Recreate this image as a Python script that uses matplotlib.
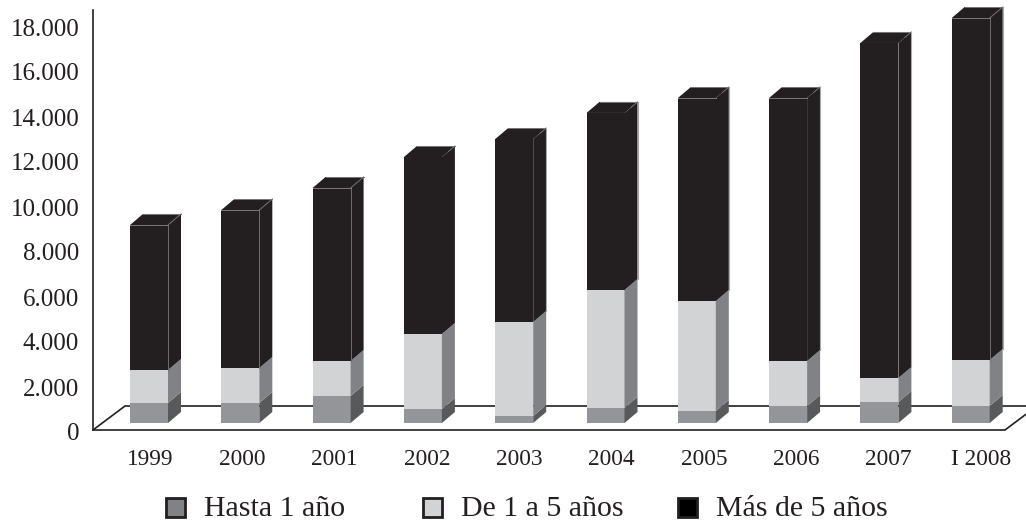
import matplotlib
matplotlib.use('Agg')
import matplotlib.pyplot as plt
from matplotlib.patches import Polygon, Rectangle
from matplotlib.transforms import ScaledTranslation

plt.rcParams['font.family'] = ['Liberation Serif', 'DejaVu Serif']

years = ['1999', '2000', '2001', '2002', '2003', '2004', '2005', '2006', '2007', 'I 2008']
hasta_1 = [890, 890, 1200, 620, 310, 670, 530, 755, 930, 755]
de_1_a_5 = [1465, 1555, 1555, 3335, 4180, 5240, 4890, 2000, 1070, 2045]
mas_de_5 = [6445, 7020, 7690, 7865, 8130, 7870, 9020, 11690, 14890, 15200]

yticks = [0, 2000, 4000, 6000, 8000, 10000, 12000, 14000, 16000, 18000]
ytick_labels = ['0', '2.000', '4.000', '6.000', '8.000', '10.000', '12.000', '14.000', '16.000', '18.000']

legend_names = ['Hasta 1 año', 'De 1 a 5 años', 'Más de 5 años']
legend_colors = ['#808285', '#d1d3d4', '#000000']

# which bars show the thin edges on the dark block
inner_edge = ['1999', '2000', '2001', 'I 2008']
front_top_edge = ['1999', '2000', '2001', '2005', '2006', 'I 2008']
outer_edge = ['2003', '2004', '2005', '2006', '2007', 'I 2008']

series = [
    (hasta_1, '#939598', '#58595b'),
    (de_1_a_5, '#d1d3d4', '#808285'),
    (mas_de_5, '#231f20', '#231f20'),
]

# sizes in pixels of the fake 3D look
W, H = 1026, 522
PX_LEFT, PX_FLOOR = 93, 430
PX_STEP = 91.3
PX_FIRST = 149
PX_PER_UNIT = 0.0225
half_w = 19 / PX_STEP
dx = 13 / PX_STEP
dy = 11 / PX_PER_UNIT
base = 7 / PX_PER_UNIT

fig = plt.figure(figsize=(W / 100, H / 100), dpi=100)
ax = fig.add_axes([PX_LEFT / W, (H - PX_FLOOR) / H, (W - PX_LEFT) / W, PX_FLOOR / H])
ax.set_xlim((PX_LEFT - PX_FIRST) / PX_STEP, (W - PX_FIRST) / PX_STEP)
ax.set_ylim(0, PX_FLOOR / PX_PER_UNIT)

# floor of the chart
floor_dx = 32 / PX_STEP
floor_dy = 24 / PX_PER_UNIT
x0, x1 = ax.get_xlim()
x_end = (1005 - PX_FIRST) / PX_STEP
ax.plot([x0, x0 + floor_dx, x_end + floor_dx, x_end], [0, floor_dy, floor_dy, 0],
        color='#231f20', lw=1.2, zorder=1)

for i, year in enumerate(years):
    bottom = base
    for values, front, side in series:
        top = bottom + values[i]
        left, right = i - half_w, i + half_w
        ax.add_patch(Polygon([(left, bottom), (right, bottom), (right, top), (left, top)],
                             fc=front, ec='none', zorder=3))
        ax.add_patch(Polygon([(right, bottom), (right + dx, bottom + dy), (right + dx, top + dy), (right, top)],
                             fc=side, ec='none', zorder=3))
        bottom = top
    dark_bottom = top - mas_de_5[i]

    # top face of the stack with its thin light edges
    ax.add_patch(Polygon([(left, top), (right, top), (right + dx, top + dy), (left + dx, top + dy)],
                         fc='#231f20', ec='none', zorder=3))
    ax.plot([left + dx, right + dx], [top + dy, top + dy], color='#77787b', lw=0.7, zorder=4)
    if year in inner_edge:
        ax.plot([right, right], [top, dark_bottom], color='#6d6e71', lw=0.7, zorder=4)
        ax.plot([right, right + dx], [top, top + dy], color='#6d6e71', lw=0.7, zorder=4)
    else:
        ax.plot([right + dx / 2, right + dx], [top + dy / 2, top + dy], color='#6d6e71', lw=0.7, zorder=4)
    if year in front_top_edge:
        ax.plot([left, right], [top, top], color='#77787b', lw=0.7, zorder=4)
    if year in outer_edge:
        ax.plot([right + dx, right + dx], [top + dy, dark_bottom + dy], color='#a7a9ac', lw=0.8, zorder=4)

for name in ['top', 'right']:
    ax.spines[name].set_visible(False)
ax.spines['left'].set_bounds(0, 420 / PX_PER_UNIT)
ax.spines['left'].set_color('#231f20')
ax.spines['bottom'].set_bounds(x0, x_end)
ax.spines['bottom'].set_color('#231f20')
ax.spines['left'].set_linewidth(1.2)
ax.spines['bottom'].set_linewidth(1.2)

ax.set_yticks(yticks, ytick_labels)
ax.set_xticks([i + (i + 1) / PX_STEP for i in range(len(years))], years)
ax.tick_params(axis='y', length=0, pad=10, labelsize=18, labelcolor='#231f20')
ax.tick_params(axis='x', length=0, pad=13.5, labelsize=16.8, labelcolor='#231f20')

# numbers sit a little below their nominal height
down = ScaledTranslation(0, -2 / 100, fig.dpi_scale_trans)
for label in ax.get_yticklabels():
    label.set_transform(label.get_transform() + down)

# legend entries are spaced by hand, the gaps are not equal
for name, color, px_box in zip(legend_names, legend_colors, [166, 423, 678]):
    fig.add_artist(Rectangle((px_box / W, 1 - 517 / H), 19 / W, 19 / H, transform=fig.transFigure,
                             fc=color, ec='#231f20', lw=2))
    fig.text((px_box + 38) / W, 1 - 516 / H, name, fontsize=21.5, color='#231f20', va='baseline')

fig.savefig('out.png', dpi=100)
